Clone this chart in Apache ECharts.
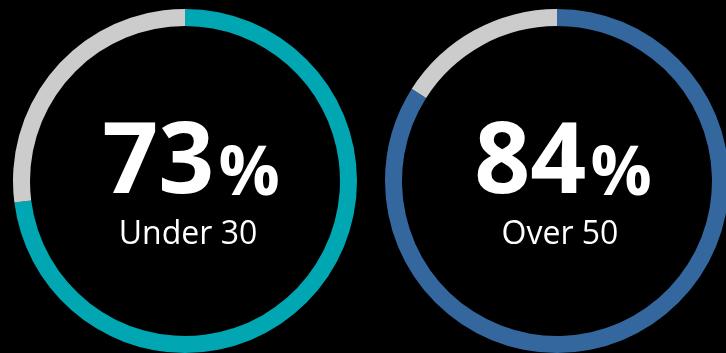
<!DOCTYPE html>
<html>
<head>
<meta charset="utf-8">
<script src="https://cdn.jsdelivr.net/npm/echarts@6/dist/echarts.min.js"></script>
<style>
  html, body { margin: 0; padding: 0; background: #000; }
  #chart { width: 726px; height: 353px; }
</style>
</head>
<body>
<div id="chart"></div>
<script>
  // share of each group, rest of the ring is grey
  var groups = ['Under 30', 'Over 50'];
  var shares = [73, 84];
  var ringColors = ['#00A6B1', '#33679D'];
  var restColor = '#CCCCCC';
  var centers = [[185, 181], [557, 181]];

  var chart = echarts.init(document.getElementById('chart'));

  var series = groups.map(function (name, i) {
    return {
      type: 'pie',
      radius: [155, 172],
      center: centers[i],
      startAngle: 90,
      silent: true,
      animation: false,
      labelLine: { show: false },
      data: [
        {
          value: shares[i],
          name: name,
          itemStyle: { color: ringColors[i] },
          label: {
            show: true,
            position: 'center',
            formatter: '{v|' + shares[i] + '}{p|%}\n{n|' + name + '}',
            padding: [8, 0, 0, 6],
            rich: {
              v: { fontFamily: 'Open Sans', fontWeight: 'bold', fontSize: 98, color: '#fff', lineHeight: 100, verticalAlign: 'bottom', padding: [0, 0, 0, 6] },
              p: { fontFamily: 'Open Sans', fontWeight: 'bold', fontSize: 68, color: '#fff', lineHeight: 100, verticalAlign: 'bottom', padding: [0, 0, 4, 4] },
              n: { fontFamily: 'Open Sans', fontSize: 32, color: '#fff', lineHeight: 42 }
            }
          }
        },
        {
          value: 100 - shares[i],
          name: 'rest',
          itemStyle: { color: restColor },
          label: { show: false }
        }
      ]
    };
  });

  chart.setOption({
    backgroundColor: '#000',
    series: series
  });
</script>
</body>
</html>
